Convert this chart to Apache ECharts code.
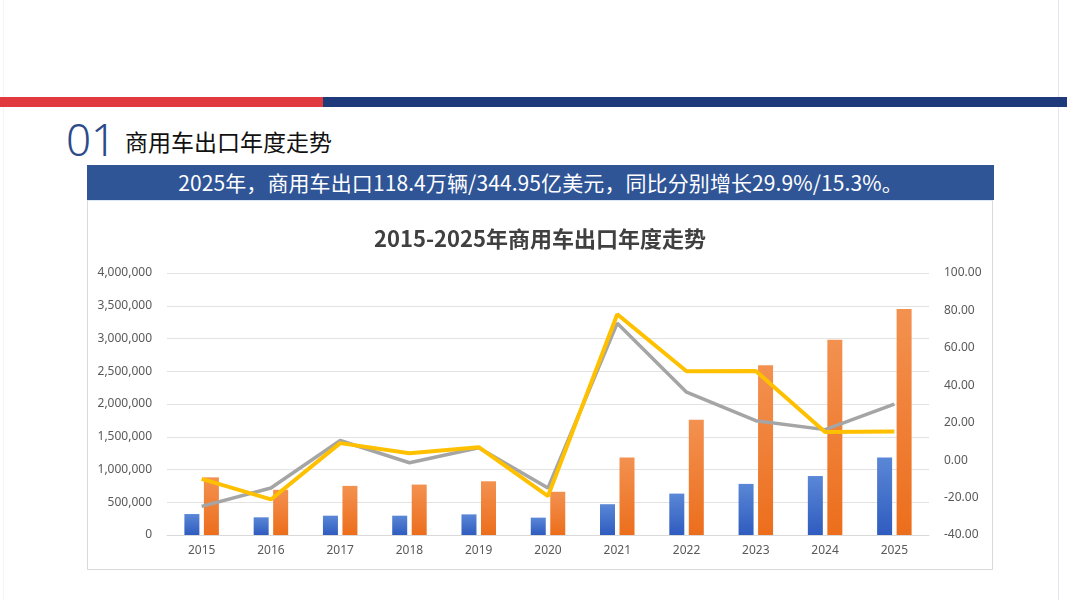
<!DOCTYPE html>
<html>
<head>
<meta charset="utf-8">
<script src="https://cdn.jsdelivr.net/npm/echarts@6/dist/echarts.min.js"></script>
<style>
  html, body { margin: 0; padding: 0; background: #fff; }
  body { width: 1067px; height: 600px; position: relative; overflow: hidden;
         font-family: "Noto Sans CJK SC", "Noto Sans", sans-serif; }
  .edge { position: absolute; top: 0; width: 1px; height: 600px; background: #dfe8f1; }
  .band-red { position: absolute; left: 0; top: 97px; width: 323px; height: 10px; background: #e03a3e; }
  .band-navy { position: absolute; left: 323px; top: 97px; width: 744px; height: 10px; background: #1f3a7a; }
  .num { position: absolute; left: 66px; top: 112px; font-family: "Noto Sans", "Lato", sans-serif;
         font-weight: 300; font-size: 44px; color: #2c4a8a; line-height: 54px; }
  .head { position: absolute; left: 125px; top: 126px; font-size: 23px; color: #111; line-height: 30px; }
  .banner { position: absolute; left: 87px; top: 165px; width: 907px; height: 35px; background: #2f5597;
            color: #fff; font-size: 21px; line-height: 35px; text-align: center; letter-spacing: 0.1px; }
  #chart { position: absolute; left: 87px; top: 200px; width: 906px; height: 370px;
           border: 1px solid #d9d9d9; border-top: 1px solid #dbe6f4; box-sizing: border-box; }
</style>
</head>
<body>
<div class="edge" style="left:1058px"></div>
<div class="edge" style="left:3px;background:#f2f5f9"></div>
<div class="band-red"></div>
<div class="band-navy"></div>
<div class="num">01</div>
<div class="head">商用车出口年度走势</div>
<div class="banner">2025年，商用车出口118.4万辆/344.95亿美元，同比分别增长29.9%/15.3%。</div>
<div id="chart"></div>
<script>
// 年份
var years = ['2015', '2016', '2017', '2018', '2019', '2020', '2021', '2022', '2023', '2024', '2025'];
// 出口量（辆）
var volume = [320000, 270000, 295000, 295000, 315000, 265000, 470000, 632000, 780000, 900000, 1184000];
// 出口额（万美元）
var amount = [880000, 690000, 750000, 770000, 820000, 660000, 1185000, 1760000, 2590000, 2980000, 3449500];
// 出口量同比（%）
var volumeYoY = [-24.7, -14.9, 10.5, -1.4, 6.6, -14.9, 73.2, 36.3, 21.1, 16.3, 29.9];
// 出口额同比（%）
var amountYoY = [-10.0, -21.0, 9.1, 3.7, 6.9, -19.2, 78.0, 47.5, 47.6, 15.1, 15.3];

var chart = echarts.init(document.getElementById('chart'));
var labelFont = { color: '#595959', fontSize: 12, fontFamily: 'Noto Sans, sans-serif' };

function grad(top, bottom) {
  return new echarts.graphic.LinearGradient(0, 0, 0, 1, [
    { offset: 0, color: top },
    { offset: 1, color: bottom }
  ]);
}

var option = {
  animation: false,
  title: {
    text: '2015-2025年商用车出口年度走势',
    left: 'center',
    top: 22,
    textStyle: { fontSize: 22, fontWeight: 'bold', color: '#404040',
                 fontFamily: 'Noto Sans CJK SC, sans-serif' }
  },
  grid: { left: 79, right: 63, top: 72, bottom: 34 },
  xAxis: {
    type: 'category',
    data: years,
    axisLine: { lineStyle: { color: '#d9d9d9' } },
    axisTick: { show: false },
    axisLabel: Object.assign({ margin: 10 }, labelFont)
  },
  yAxis: [{
    type: 'value',
    min: 0,
    max: 4000000,
    interval: 500000,
    axisLine: { show: false },
    axisTick: { show: false },
    splitLine: { lineStyle: { color: '#e3e3e3' } },
    axisLabel: Object.assign({
      margin: 15,
      formatter: function (v) { return v.toLocaleString('en-US'); }
    }, labelFont)
  }, {
    type: 'value',
    min: -40,
    max: 100,
    interval: 20,
    axisLine: { show: false },
    axisTick: { show: false },
    splitLine: { show: false },
    axisLabel: Object.assign({
      margin: 15,
      formatter: function (v) { return v.toFixed(2); }
    }, labelFont)
  }],
  series: [{
    name: '出口量',
    type: 'bar',
    data: volume,
    barWidth: 15,
    barGap: '30%',
    itemStyle: { color: grad('#5a87d6', '#2f5cbf') }
  }, {
    name: '出口额',
    type: 'bar',
    data: amount,
    barWidth: 15,
    itemStyle: { color: grad('#f39150', '#ec6e1c') }
  }, {
    name: '出口量同比',
    type: 'line',
    yAxisIndex: 1,
    data: volumeYoY,
    symbol: 'none',
    lineStyle: { color: '#a5a5a5', width: 3.5 }
  }, {
    name: '出口额同比',
    type: 'line',
    yAxisIndex: 1,
    data: amountYoY,
    symbol: 'none',
    lineStyle: { color: '#ffc000', width: 4 }
  }]
};

chart.setOption(option);
</script>
</body>
</html>
